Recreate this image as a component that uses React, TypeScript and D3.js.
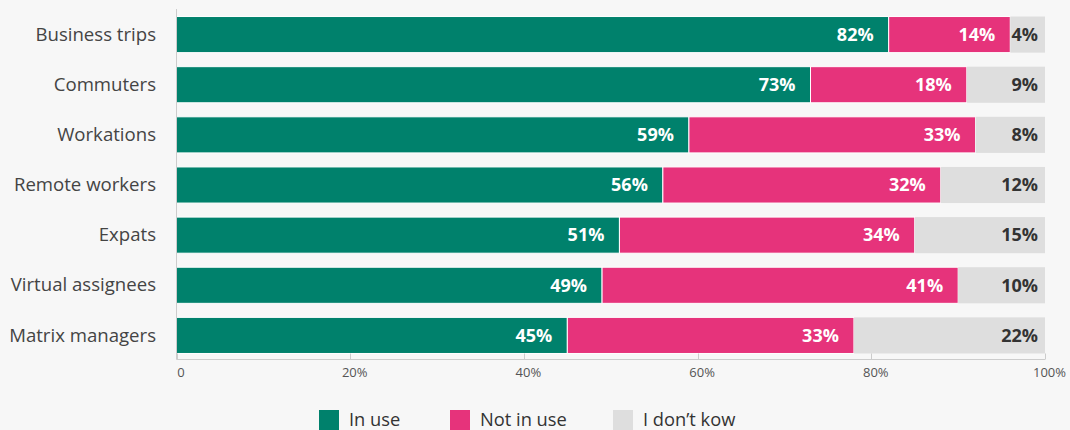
import React from "react";
import * as d3 from "d3";

const categories = [
  "Business trips",
  "Commuters",
  "Workations",
  "Remote workers",
  "Expats",
  "Virtual assignees",
  "Matrix managers",
];
const inUse = [82, 73, 59, 56, 51, 49, 45];
const notInUse = [14, 18, 33, 32, 34, 41, 33];
const dontKnow = [4, 9, 8, 12, 15, 10, 22];
const seriesNames = ["In use", "Not in use", "I don\u2019t kow"];
const seriesColors = ["#00816c", "#e6337b", "#dedede"];
const labelColors = ["#ffffff", "#ffffff", "#333333"];
const tickValues = [0, 20, 40, 60, 80, 100];
const tickLabels = ["0", "20%", "40%", "60%", "80%", "100%"];

const W = 1070;
const H = 430;
const FONT = "'Open Sans', sans-serif";

export default function App() {
  const x = d3.scaleLinear().domain([0, 100]).range([176.5, 1045]);
  const y = d3
    .scaleBand<string>()
    .domain(categories)
    .range([9.5, 360.5])
    .paddingInner(0.28)
    .paddingOuter(0.14);

  const rows = categories.map((c, i) => ({ c, vals: [inUse[i], notInUse[i], dontKnow[i]] }));
  const stack = d3.stack<any>().keys(["0", "1", "2"])(
    rows.map((r) => ({ "0": r.vals[0], "1": r.vals[1], "2": r.vals[2], c: r.c }))
  );

  const axisY = 359.5;
  const legendItems = [
    { x: 319, tx: 349 },
    { x: 450, tx: 480 },
    { x: 613, tx: 643 },
  ];

  return (
    <svg
      width={W}
      height={H}
      style={{ position: "absolute", left: 0, top: 0, background: "#f7f7f7", display: "block" }}
    >
      <rect x={0} y={0} width={W} height={H} fill="#f7f7f7" />
      {stack.map((layer, si) =>
        layer.map((d, i) => {
          const x0 = x(d[0]);
          const x1 = x(d[1]);
          const yy = y(categories[i])!;
          const bw = y.bandwidth();
          const pad = si === 2 ? 7 : 15;
          return (
            <g key={`${si}-${i}`}>
              <rect
                x={x0}
                y={yy}
                width={x1 - x0}
                height={bw}
                fill={seriesColors[si]}
                stroke={si < 2 ? "#ffffff" : "none"}
                strokeWidth={si < 2 ? 1 : 0}
              />
              <text
                x={x1 - pad}
                y={yy + bw / 2}
                dy="0.35em"
                textAnchor="end"
                fontFamily={FONT}
                fontWeight={700}
                fontSize={18}
                fill={labelColors[si]}
              >
                {`${[inUse, notInUse, dontKnow][si][i]}%`}
              </text>
            </g>
          );
        })
      )}
      <line x1={x(0)} x2={x(0)} y1={9} y2={axisY} stroke="#cccccc" strokeWidth={1} />
      <line x1={x(0)} x2={x(100)} y1={axisY} y2={axisY} stroke="#cccccc" strokeWidth={1} />
      {tickValues.map((t, i) => (
        <g key={t}>
          <line
            x1={Math.round(x(t)) + 0.5}
            x2={Math.round(x(t)) + 0.5}
            y1={axisY}
            y2={axisY - 6}
            stroke="#cccccc"
          />
          <text
            x={x(t) + 4.5}
            y={377}
            textAnchor="middle"
            fontFamily={FONT}
            fontSize={13}
            fill="#555555"
          >
            {tickLabels[i]}
          </text>
        </g>
      ))}
      {categories.map((c) => (
        <text
          key={c}
          x={156}
          y={y(c)! + y.bandwidth() / 2}
          dy="0.33em"
          textAnchor="end"
          fontFamily={FONT}
          fontSize={18.6}
          fill="#444444"
        >
          {c}
        </text>
      ))}
      {seriesNames.map((n, i) => (
        <g key={n}>
          <rect x={legendItems[i].x} y={410} width={20} height={20} fill={seriesColors[i]} />
          <text x={legendItems[i].tx} y={426} fontFamily={FONT} fontSize={18.3} fill="#333333">
            {n}
          </text>
        </g>
      ))}
    </svg>
  );
}
